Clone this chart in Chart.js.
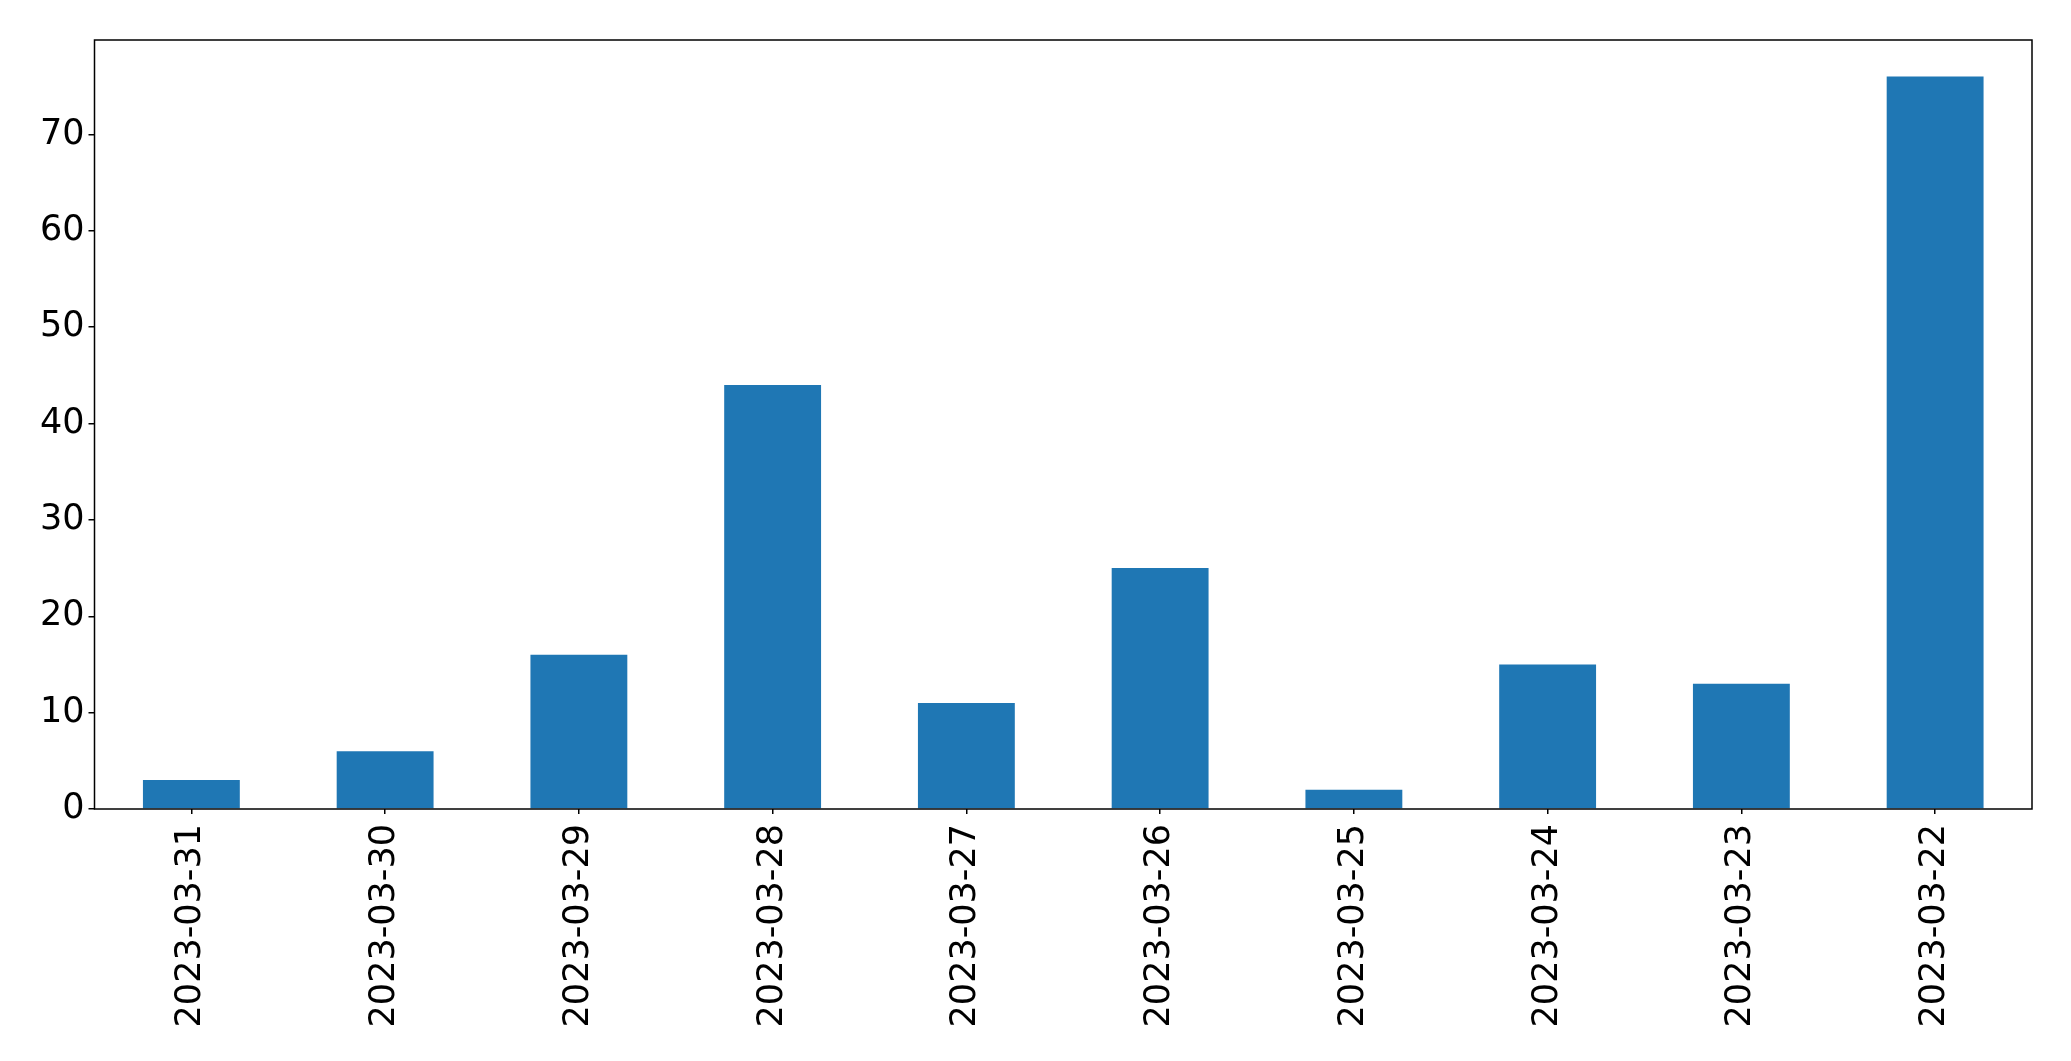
<!DOCTYPE html>
<html>
<head>
<meta charset="utf-8">
<script src="https://cdn.jsdelivr.net/npm/chart.js@4/dist/chart.umd.min.js"></script>
<style>
  html, body { margin: 0; padding: 0; background: #fff; }
  #wrap { width: 2071px; height: 1061px; }
</style>
</head>
<body>
<div id="wrap"><canvas id="chart1" width="2071" height="1061"></canvas></div>
<script>
const dates = ['2023-03-31', '2023-03-30', '2023-03-29', '2023-03-28', '2023-03-27',
               '2023-03-26', '2023-03-25', '2023-03-24', '2023-03-23', '2023-03-22']
const counts = [3, 6, 16, 44, 11, 25, 2, 15, 13, 76]
const yTicks = [0, 10, 20, 30, 40, 50, 60, 70]
const yMax = 79.8

const tickFont = { family: 'DejaVu Sans', size: 35 }

// draws the full box round the plot area, like matplotlib spines
const frame = {
    id: 'frame',
    afterDraw(chart) {
        const { ctx, chartArea: a } = chart
        ctx.save()
        ctx.strokeStyle = '#000'
        ctx.lineWidth = 1.5
        ctx.strokeRect(a.left, a.top, a.right - a.left, a.bottom - a.top)
        ctx.restore()
    }
}

function grafico() {
    const data = {
        labels: dates,
        datasets: [{
            data: counts,
            backgroundColor: '#1f77b4',
            barPercentage: 0.5,
            categoryPercentage: 1.0
        }]
    }
    new Chart(document.getElementById('chart1'), {
        type: 'bar',
        data,
        plugins: [frame],
        options: {
            responsive: false,
            animation: false,
            layout: { padding: { top: 40, right: 39, left: 0, bottom: 0 } },
            plugins: { legend: { display: false }, tooltip: { enabled: false } },
            scales: {
                x: {
                    offset: true,
                    grid: { display: true, offset: false, drawOnChartArea: false, drawTicks: true, tickLength: 5, color: '#000', lineWidth: 1.5 },
                    border: { display: false },
                    ticks: { color: '#000', font: tickFont, minRotation: 90, maxRotation: 90, padding: 10, autoSkip: false },
                    afterFit: axis => { axis.height = 252 }
                },
                y: {
                    min: 0,
                    max: yMax,
                    grid: { display: true, drawOnChartArea: false, drawTicks: true, tickLength: 6, color: '#000', lineWidth: 1.5 },
                    border: { display: false },
                    ticks: { color: '#000', font: tickFont, stepSize: 10, padding: 4 },
                    afterBuildTicks: axis => { axis.ticks = yTicks.map(v => ({ value: v })) },
                    afterFit: axis => { axis.width = 94.5 }
                }
            }
        }
    })
}

grafico()
</script>
</body>
</html>
